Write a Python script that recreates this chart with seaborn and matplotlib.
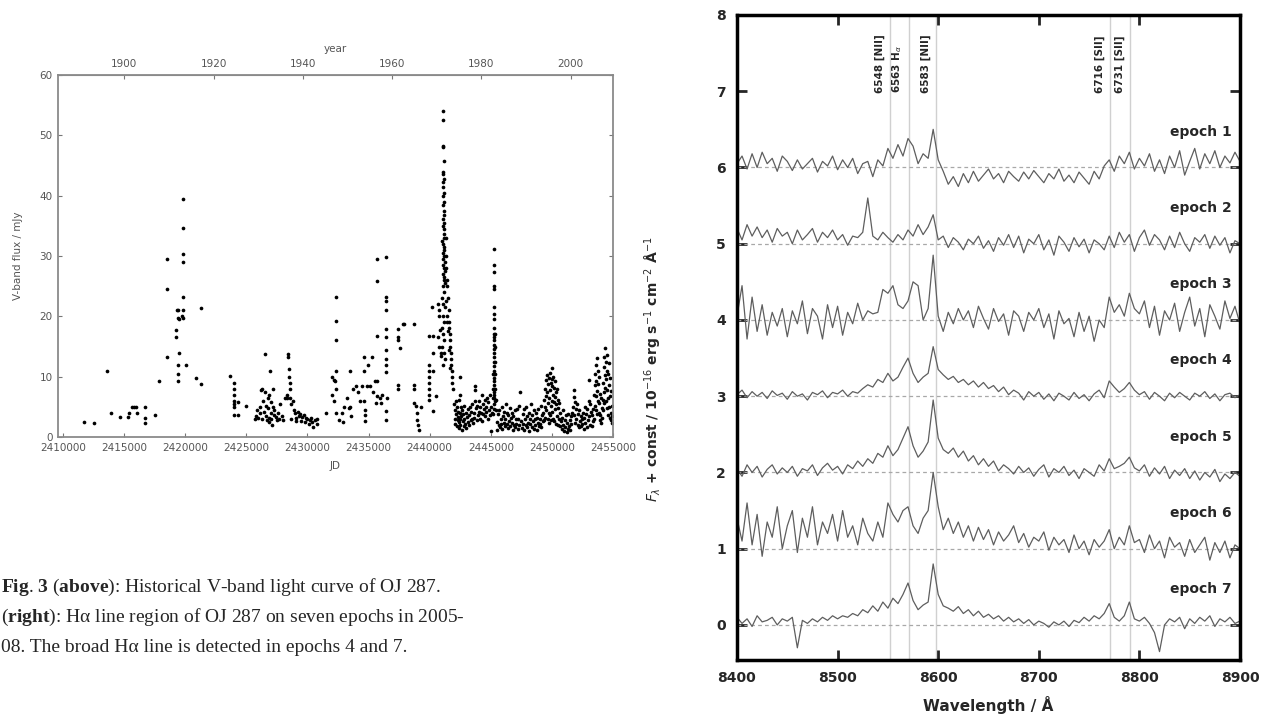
import numpy as np
import pandas as pd
import matplotlib
matplotlib.use("Agg")
import matplotlib.pyplot as plt
import seaborn as sns

# --- light curve data: (JD - 2400000, V-band flux / mJy) ---
early_1900s = [
    (11750, 2.5), (12560, 2.3), (13580, 11.0), (13950, 4.0), (14700, 3.3), (15330, 3.3),
    (15430, 4.0), (15650, 5.0), (15800, 5.0), (16000, 5.0), (16050, 4.0), (16730, 5.0),
    (16730, 3.2), (16730, 2.4), (17530, 3.7), (17850, 9.2), (18550, 29.5), (18550, 24.5),
    (18550, 13.3), (19220, 17.8), (19220, 16.6), (19300, 21.0), (19400, 21.0), (19400, 19.8),
    (19500, 19.6), (19400, 10.5), (19400, 12.0), (19420, 9.3), (19520, 13.9), (19800, 30.4),
    (19800, 29.0), (19800, 23.2), (19800, 19.8), (19800, 21.0), (19820, 39.5), (19820, 34.7),
    (19780, 20.0), (20100, 12.0), (20900, 9.8), (21300, 21.3), (21300, 8.8),
]
season_1930s = [
    (23640, 10.1), (24000, 9.0), (24000, 8.0), (24000, 7.0), (24000, 6.0), (24000, 5.5),
    (24000, 5.0), (24000, 3.7), (24300, 5.8), (24350, 3.7), (25000, 5.1), (25750, 3.0),
    (25800, 3.5), (25900, 4.5), (26000, 3.2), (26100, 5.0), (26150, 4.0), (26200, 7.8),
    (26300, 8.0), (26300, 3.0), (26400, 6.0), (26450, 4.2), (26500, 13.8), (26500, 7.5),
    (26600, 5.2), (26600, 3.5), (26700, 2.8), (26750, 6.5), (26800, 4.8), (26850, 3.2),
    (26900, 7.0), (26900, 2.5), (26950, 11.0), (27000, 5.8), (27000, 4.0), (27050, 3.0),
    (27100, 2.0), (27150, 8.0), (27200, 5.0), (27250, 3.6), (27300, 4.5), (27400, 3.3),
    (27500, 2.8), (27600, 4.0), (27650, 3.0), (27800, 5.5), (27900, 3.5), (28000, 2.8),
    (28200, 6.5), (28300, 7.0), (28350, 6.4), (28450, 13.8), (28450, 13.3), (28500, 11.2),
    (28500, 10.0), (28550, 9.0), (28550, 6.5), (28600, 8.0), (28650, 5.5), (28700, 3.0),
    (28800, 6.0), (28900, 4.5), (29000, 4.0), (29050, 3.2), (29100, 2.7), (29200, 4.2),
    (29300, 3.5), (29400, 3.8), (29500, 2.6), (29600, 3.3), (29700, 3.6), (29800, 2.5),
    (29900, 3.2), (30000, 3.0), (30100, 2.2), (30200, 2.8), (30300, 3.2), (30400, 2.5),
    (30500, 1.6), (30600, 2.8), (30750, 2.2), (30800, 3.0),
]
season_1950s = [
    (31500, 4.0), (32000, 7.0), (32000, 10.0), (32150, 9.5), (32300, 23.2), (32300, 19.3),
    (32300, 16.0), (32300, 11.0), (32250, 9.3), (32350, 8.0), (32200, 6.0), (32350, 4.0),
    (32600, 2.9), (32800, 4.0), (32900, 2.5), (33000, 5.0), (33200, 6.5), (33400, 4.8),
    (33500, 11.0), (33500, 5.0), (33600, 3.5), (33700, 7.9), (34000, 8.4), (34100, 7.5),
    (34300, 6.0), (34500, 8.4), (34600, 13.3), (34600, 11.0), (34650, 6.0), (34700, 4.5),
    (34750, 3.7), (34750, 2.6), (34900, 8.4), (34950, 12.0), (35100, 8.4), (35300, 13.3),
    (35400, 7.5), (35500, 9.3), (35600, 5.7), (35700, 16.8), (35700, 9.3), (35700, 6.8),
    (35700, 25.9), (35700, 29.5), (35900, 6.5), (36000, 5.7), (36100, 7.0), (36400, 29.8),
    (36400, 23.2), (36400, 22.6), (36400, 21.0), (36400, 17.9), (36400, 16.6), (36400, 14.5),
    (36400, 13.0), (36400, 12.0), (36400, 10.7), (36400, 4.3), (36400, 2.9), (36500, 6.5),
    (37400, 17.9), (37400, 16.5), (37450, 16.0), (37600, 14.8), (37400, 8.7), (37400, 8.0),
    (37800, 18.8), (37900, 18.8), (38700, 18.8), (38700, 8.7), (38700, 7.9), (38700, 5.7),
    (38900, 5.1), (38950, 4.0), (39000, 2.9), (39050, 2.0), (39100, 1.2), (39300, 5.0),
    (39950, 16.8), (39950, 12.0), (39950, 11.0), (39950, 10.0), (39950, 9.0), (39950, 8.0),
    (39950, 7.0), (39950, 6.2), (40250, 16.8), (40200, 21.6), (40250, 4.3), (40550, 6.8),
    (40250, 11.0), (40300, 14.0),
]
flare_1971 = [
    (40700, 22.0), (40750, 21.0), (40800, 20.0), (40850, 17.8), (40700, 16.5), (40800, 15.0),
    (40900, 14.0), (40950, 13.5), (41120, 54.0), (41120, 52.5), (41130, 48.2), (41130, 48.0),
    (41140, 45.7), (41120, 44.0), (41130, 43.6), (41140, 42.8), (41130, 42.2), (41120, 41.4),
    (41140, 40.5), (41130, 40.0), (41150, 39.0), (41120, 38.4), (41140, 37.5), (41160, 36.8),
    (41130, 36.2), (41150, 35.5), (41120, 35.0), (41160, 34.5), (41140, 33.6), (41170, 33.0),
    (41050, 32.5), (41100, 32.0), (41150, 31.5), (41200, 31.0), (41080, 30.5), (41180, 30.0),
    (41120, 29.5), (41220, 29.0), (41060, 28.5), (41160, 28.0), (41240, 27.5), (41100, 27.0),
    (41200, 26.5), (41140, 26.0), (41260, 25.5), (41080, 25.0), (41180, 24.0), (41020, 23.0),
    (41120, 22.0), (41220, 21.5), (41060, 20.0), (41160, 19.0), (41000, 18.0), (41100, 17.0),
    (41200, 16.0), (41040, 15.0), (41140, 14.0), (41240, 13.0), (41080, 12.0), (41300, 33.0),
    (41320, 30.0), (41350, 28.0), (41400, 26.0), (41450, 25.0), (41500, 23.0), (41550, 21.0),
    (41600, 19.0), (41620, 18.0), (41650, 17.0), (41680, 16.0), (41700, 15.0), (41720, 14.0),
    (41750, 13.0), (41780, 12.0), (41800, 11.0), (41830, 10.0), (41850, 9.0), (41880, 8.0),
    (41400, 20.0), (41500, 17.5), (41600, 14.5), (41700, 11.5), (41350, 22.5), (41450, 19.0),
]
season_1970s_80s = [
    (42000, 5.5), (42050, 3.0), (42080, 4.5), (42100, 2.2), (42150, 6.0), (42180, 3.8),
    (42200, 1.8), (42250, 5.0), (42280, 2.8), (42300, 4.2), (42350, 3.3), (42380, 1.5),
    (42400, 6.2), (42420, 2.5), (42450, 10.0), (42450, 4.0), (42480, 3.0), (42500, 7.0),
    (42520, 2.0), (42550, 5.0), (42600, 3.5), (42620, 1.2), (42650, 4.4), (42700, 2.6),
    (42750, 3.8), (42800, 1.8), (42820, 5.2), (42850, 3.0), (42900, 2.2), (42950, 4.0),
    (43000, 1.5), (43050, 3.3), (43100, 2.5), (43150, 4.6), (43200, 2.0), (43250, 3.6),
    (43300, 5.0), (43350, 2.8), (43400, 4.2), (43450, 3.0), (43500, 5.5), (43550, 2.4),
    (43600, 4.0), (43650, 3.2), (43700, 6.0), (43740, 8.5), (43740, 7.8), (43800, 4.8),
    (43850, 2.8), (43900, 5.2), (43950, 3.6), (44000, 6.0), (44050, 4.2), (44100, 3.0),
    (44150, 5.0), (44200, 4.0), (44280, 7.0), (44300, 2.6), (44350, 5.4), (44400, 3.8),
    (44450, 4.6), (44500, 6.2), (44550, 3.4), (44600, 5.0), (44650, 4.2), (44700, 6.5),
    (44750, 3.0), (44800, 5.8), (44850, 4.4), (44900, 7.0), (44950, 3.6), (45000, 5.0),
    (45050, 1.0), (45100, 4.0), (45150, 6.5),
]
flare_1983 = [
    (45230, 31.2), (45230, 28.5), (45240, 27.4), (45240, 25.0), (45240, 24.6), (45250, 21.5),
    (45250, 20.4), (45260, 19.5), (45240, 18.0), (45260, 17.0), (45250, 16.5), (45270, 16.0),
    (45260, 15.2), (45280, 14.6), (45250, 14.0), (45270, 13.2), (45260, 12.4), (45280, 11.8),
    (45250, 11.0), (45270, 10.4), (45290, 9.8), (45260, 9.2), (45280, 8.6), (45300, 8.0),
    (45270, 7.5), (45290, 7.0), (45240, 6.5), (45310, 6.0), (45280, 5.4), (45300, 4.6),
    (45330, 17.0), (45340, 15.0), (45350, 12.5), (45360, 10.5), (45380, 8.0), (45400, 6.2),
    (45420, 4.5), (45200, 3.8), (45220, 10.5), (45220, 8.0),
]
season_1985_94 = [
    (45500, 2.5), (45550, 1.2), (45600, 3.8), (45650, 2.0), (45700, 4.5), (45750, 1.6),
    (45800, 3.0), (45850, 2.2), (45900, 5.0), (45950, 1.4), (46000, 3.4), (46050, 2.4),
    (46100, 4.2), (46150, 1.8), (46200, 3.0), (46250, 5.5), (46300, 2.2), (46350, 4.0),
    (46400, 1.5), (46450, 3.6), (46500, 2.6), (46550, 4.8), (46600, 1.8), (46650, 3.2),
    (46700, 2.4), (46750, 4.0), (46800, 1.2), (46850, 3.4), (46900, 2.0), (46950, 4.4),
    (47000, 1.6), (47050, 3.0), (47100, 2.2), (47150, 4.6), (47200, 1.4), (47250, 3.0),
    (47300, 2.0), (47350, 5.2), (47420, 7.4), (47450, 2.6), (47550, 1.5), (47600, 3.8),
    (47650, 2.2), (47700, 4.6), (47750, 1.2), (47800, 3.0), (47850, 2.0), (47900, 5.0),
    (47950, 1.6), (48000, 3.4), (48050, 2.4), (48100, 4.0), (48150, 1.0), (48200, 3.0),
    (48250, 2.2), (48300, 5.4), (48350, 1.6), (48400, 3.6), (48450, 2.6), (48500, 4.4),
    (48550, 1.4), (48600, 3.0), (48650, 2.0), (48700, 4.0), (48750, 1.2), (48800, 3.2),
    (48850, 2.4), (48900, 4.6), (48950, 1.8), (49000, 3.0), (49050, 2.2), (49100, 5.2),
    (49150, 1.6), (49200, 3.6), (49250, 2.6),
]
outburst_1995 = [
    (49300, 4.0), (49330, 6.2), (49360, 2.8), (49400, 8.0), (49430, 5.0), (49460, 3.2),
    (49500, 9.5), (49530, 6.8), (49560, 4.4), (49600, 10.2), (49620, 7.5), (49650, 3.0),
    (49680, 8.8), (49700, 5.6), (49730, 2.4), (49760, 9.8), (49780, 6.4), (49800, 4.0),
    (49830, 10.6), (49850, 7.8), (49880, 3.6), (49900, 9.0), (49920, 5.2), (49950, 2.8),
    (49980, 8.4), (50000, 6.0), (50020, 11.4), (50030, 4.2), (50050, 9.6), (50080, 7.0),
    (50100, 3.0), (50130, 10.0), (50150, 5.8), (50180, 8.2), (50200, 2.6), (50230, 6.6),
    (50250, 9.2), (50280, 4.6), (50300, 7.4), (50330, 2.2), (50360, 5.4), (50400, 8.0),
    (50430, 3.4), (50460, 6.2), (50500, 2.0), (50530, 4.8), (50560, 3.0), (50600, 5.6),
    (50650, 1.8), (50700, 4.0), (50750, 2.6),
]
season_1998_2004 = [
    (50800, 1.4), (50850, 3.2), (50900, 2.0), (50950, 4.4), (51000, 1.0), (51050, 2.8),
    (51100, 1.6), (51150, 3.6), (51200, 0.8), (51250, 2.4), (51300, 1.4), (51350, 3.8),
    (51400, 1.8), (51450, 2.8), (51500, 1.2), (51550, 3.4), (51600, 2.2), (51650, 4.0),
    (51750, 5.0), (51800, 7.8), (51820, 6.6), (51850, 3.6), (51880, 5.8), (51900, 2.4),
    (51950, 4.6), (52000, 3.0), (52050, 5.4), (52100, 2.0), (52150, 3.8), (52200, 1.6),
    (52250, 4.4), (52300, 2.6), (52350, 3.4), (52400, 1.8), (52450, 3.0), (52500, 2.2),
    (52550, 4.0), (52600, 1.4), (52650, 3.2), (52700, 5.0), (52750, 2.4), (52800, 3.8),
    (52850, 1.6), (52900, 4.6), (52950, 2.8), (53000, 6.0), (53020, 9.5), (53050, 3.4),
    (53100, 5.4), (53150, 2.0), (53200, 4.2), (53250, 1.8), (53300, 3.6), (53350, 2.6),
]
outburst_2006 = [
    (53400, 4.6), (53450, 7.0), (53480, 3.0), (53500, 8.6), (53530, 5.2), (53560, 10.4),
    (53580, 6.8), (53600, 12.0), (53620, 4.4), (53650, 9.2), (53680, 13.1), (53700, 7.6),
    (53720, 3.8), (53750, 11.0), (53780, 6.0), (53800, 8.8), (53830, 4.0), (53850, 10.0),
    (53880, 5.6), (53900, 2.8), (53930, 7.2), (53960, 3.6), (54000, 6.4), (54050, 2.4),
    (54080, 4.8), (54120, 3.2), (54150, 6.2), (54180, 9.0), (54200, 4.4), (54230, 11.6),
    (54250, 7.4), (54280, 13.2), (54300, 5.6), (54320, 10.2), (54350, 14.7), (54370, 8.2),
    (54400, 12.4), (54420, 6.0), (54450, 9.6), (54480, 13.6), (54500, 4.8), (54520, 11.0),
    (54550, 7.8), (54580, 3.6), (54600, 10.4), (54630, 6.4), (54650, 12.2), (54680, 5.0),
    (54700, 8.6), (54730, 3.2), (54750, 9.8), (54780, 6.8), (54800, 4.0), (54830, 7.6),
    (54860, 2.8), (54880, 5.2), (54900, 3.4), (54950, 2.4),
]
year_ticks = [1900, 1920, 1940, 1960, 1980, 2000]

# --- H-alpha region spectra (flux above each epoch's baseline), 8400-8900 A every 5 A ---
epoch_offsets = [6, 5, 4, 3, 2, 1, 0]
epoch_1 = [0.05, 0.15, -0.02, 0.18, 0.00, 0.20, 0.05, 0.12, -0.05, 0.15,
           0.08, -0.04, 0.10, -0.02, 0.05, 0.12, -0.06, 0.08, 0.02, 0.15,
           -0.03, 0.10, 0.00, 0.12, -0.08, 0.05, 0.08, -0.12, 0.10, 0.02,
           0.25, 0.12, 0.30, 0.15, 0.38, 0.28, 0.05, 0.18, 0.12, 0.50,
           0.10, -0.05, -0.22, -0.12, -0.25, -0.08, -0.20, -0.05, -0.18, -0.10,
           -0.02, -0.15, -0.08, -0.20, -0.05, -0.12, -0.18, -0.06, -0.15, -0.04,
           -0.12, -0.20, -0.08, -0.15, -0.02, -0.18, -0.10, -0.20, -0.06, -0.14,
           -0.22, -0.05, -0.15, 0.02, 0.10, -0.05, 0.15, 0.05, 0.20, -0.02,
           0.12, 0.02, 0.18, -0.05, 0.10, -0.08, 0.15, 0.00, 0.22, -0.10,
           0.08, 0.25, -0.02, 0.18, 0.05, 0.22, 0.00, 0.15, 0.06, 0.20, 0.08]
epoch_2 = [0.20, 0.05, 0.25, 0.10, 0.22, 0.08, 0.18, 0.02, 0.20, 0.10,
           0.15, 0.00, 0.18, 0.05, 0.12, 0.20, 0.02, 0.15, 0.08, 0.18,
           0.05, 0.12, -0.02, 0.10, 0.08, 0.15, 0.60, 0.10, 0.05, 0.15,
           0.08, 0.02, 0.12, 0.05, 0.18, 0.10, 0.25, 0.12, 0.22, 0.38,
           0.05, 0.10, -0.05, 0.08, 0.02, -0.08, 0.06, 0.00, 0.10, -0.06,
           0.04, -0.10, 0.08, -0.02, 0.12, -0.05, 0.10, -0.12, 0.06, 0.00,
           0.12, -0.08, 0.05, -0.15, 0.10, 0.02, -0.10, 0.08, -0.04, 0.06,
           -0.12, 0.05, 0.00, -0.08, 0.10, -0.05, 0.15, 0.02, 0.12, -0.10,
           0.08, 0.18, -0.02, 0.12, 0.05, -0.08, 0.10, -0.05, 0.15, 0.00,
           -0.10, 0.08, 0.02, 0.12, -0.06, 0.10, -0.02, 0.08, -0.12, 0.04, 0.00]
epoch_3 = [0.05, 0.45, -0.25, 0.30, -0.15, 0.20, -0.20, 0.10, -0.08, 0.15,
           -0.22, 0.12, -0.05, 0.25, -0.18, 0.15, 0.05, -0.25, 0.20, -0.10,
           0.18, -0.20, 0.10, -0.05, 0.22, 0.00, 0.12, 0.08, 0.10, 0.40,
           0.35, 0.45, 0.20, 0.15, 0.25, 0.50, 0.45, 0.00, 0.15, 0.85,
           0.05, -0.15, 0.10, -0.05, 0.15, 0.00, 0.12, -0.10, 0.18, 0.02,
           -0.12, 0.15, -0.02, 0.08, -0.20, 0.12, 0.05, -0.15, 0.10, 0.00,
           0.15, -0.10, 0.08, -0.25, 0.12, -0.05, 0.02, -0.22, 0.10, -0.15,
           0.05, -0.28, 0.00, -0.10, 0.30, 0.10, 0.20, 0.05, 0.35, 0.15,
           0.08, 0.25, -0.10, 0.18, -0.20, 0.12, 0.00, 0.22, -0.15, 0.10,
           0.30, -0.08, 0.15, -0.22, 0.20, 0.05, -0.12, 0.25, 0.02, 0.18, -0.05]
epoch_4 = [0.02, 0.08, -0.02, 0.06, 0.00, 0.05, -0.03, 0.07, 0.01, 0.04,
           -0.04, 0.06, 0.00, 0.03, -0.05, 0.05, 0.02, 0.07, -0.02, 0.05,
           0.03, 0.08, 0.00, 0.06, 0.04, 0.10, 0.15, 0.12, 0.22, 0.18,
           0.30, 0.20, 0.25, 0.38, 0.50, 0.30, 0.18, 0.25, 0.30, 0.65,
           0.35, 0.28, 0.22, 0.26, 0.18, 0.22, 0.15, 0.20, 0.12, 0.18,
           0.10, 0.14, 0.06, 0.12, 0.02, 0.08, 0.04, -0.05, 0.06, 0.00,
           0.05, -0.04, 0.03, -0.06, 0.04, 0.00, -0.05, 0.05, -0.03, 0.02,
           -0.06, 0.03, 0.08, -0.02, 0.20, 0.12, 0.05, 0.10, 0.18, 0.08,
           0.02, 0.06, -0.04, 0.05, 0.00, -0.06, 0.04, -0.02, 0.05, 0.00,
           -0.05, 0.04, 0.00, 0.06, -0.03, 0.03, -0.06, 0.02, 0.04, -0.02, 0.02]
epoch_5 = [0.05, -0.05, 0.10, 0.00, 0.08, -0.06, 0.04, 0.10, -0.02, 0.06,
           0.00, 0.08, -0.05, 0.05, 0.02, 0.10, -0.04, 0.06, 0.12, 0.03,
           0.08, -0.02, 0.10, 0.05, 0.15, 0.08, 0.18, 0.12, 0.25, 0.20,
           0.35, 0.22, 0.30, 0.45, 0.60, 0.35, 0.20, 0.28, 0.40, 0.95,
           0.45, 0.30, 0.25, 0.32, 0.20, 0.28, 0.15, 0.22, 0.10, 0.18,
           0.08, 0.15, 0.02, 0.10, 0.05, -0.02, 0.08, 0.00, 0.06, -0.05,
           0.04, 0.10, -0.06, 0.05, 0.00, 0.08, -0.04, 0.03, -0.08, 0.05,
           0.00, -0.05, 0.10, 0.02, 0.18, 0.05, 0.08, 0.12, 0.20, 0.06,
           0.02, 0.10, -0.05, 0.06, -0.02, 0.08, -0.08, 0.03, -0.04, 0.05,
           -0.08, 0.02, -0.10, 0.00, -0.06, 0.04, -0.12, -0.02, -0.08, 0.00, -0.05]
epoch_6 = [0.40, 0.10, 0.60, 0.05, 0.45, -0.10, 0.35, 0.15, 0.55, 0.00,
           0.30, 0.50, -0.05, 0.40, 0.15, 0.55, 0.05, 0.35, 0.20, 0.45,
           0.10, 0.50, 0.15, 0.30, 0.05, 0.40, 0.20, 0.10, 0.35, 0.15,
           0.60, 0.45, 0.35, 0.50, 0.55, 0.30, 0.20, 0.40, 0.50, 1.00,
           0.55, 0.25, 0.40, 0.20, 0.35, 0.15, 0.30, 0.10, 0.28, 0.12,
           0.25, 0.05, 0.22, 0.10, 0.18, 0.30, 0.08, 0.20, 0.02, 0.15,
           0.10, 0.22, -0.02, 0.15, 0.05, 0.12, -0.05, 0.18, 0.00, 0.10,
           -0.08, 0.12, 0.02, 0.10, 0.25, 0.00, 0.15, 0.05, 0.30, 0.08,
           0.12, -0.05, 0.18, 0.00, 0.10, -0.12, 0.15, 0.02, 0.08, -0.10,
           0.12, -0.05, 0.05, 0.15, -0.15, 0.08, -0.05, 0.10, -0.12, 0.05, 0.00]
epoch_7 = [0.10, 0.02, 0.08, -0.02, 0.12, 0.04, 0.06, 0.10, 0.00, 0.08,
           0.05, 0.10, -0.30, 0.06, 0.02, 0.08, 0.04, 0.10, 0.06, 0.12,
           0.08, 0.12, 0.10, 0.15, 0.12, 0.20, 0.16, 0.25, 0.18, 0.30,
           0.22, 0.35, 0.28, 0.40, 0.55, 0.32, 0.20, 0.26, 0.30, 0.80,
           0.40, 0.25, 0.22, 0.18, 0.24, 0.15, 0.20, 0.12, 0.18, 0.10,
           0.14, 0.08, 0.12, 0.05, 0.10, 0.04, 0.08, 0.02, 0.07, 0.00,
           0.05, 0.02, -0.03, 0.04, 0.00, 0.05, -0.02, 0.06, 0.03, 0.10,
           0.05, 0.12, 0.08, 0.15, 0.28, 0.10, 0.05, 0.12, 0.30, 0.08,
           0.05, 0.10, 0.02, -0.10, -0.35, 0.00, 0.08, 0.04, 0.10, -0.05,
           0.08, 0.02, 0.10, 0.05, 0.12, -0.02, 0.08, 0.04, 0.10, 0.02, 0.05]
line_waves = [8552, 8571, 8598, 8771, 8791]
line_names = ["6548 [NII]", r"6563 H$_\alpha$", "6583 [NII]", "6716 [SII]", "6731 [SII]"]

W, H = 1282, 722
sns.set_style("ticks")
plt.rcParams["font.family"] = ["DejaVu Sans"]
plt.rcParams["mathtext.fontset"] = "dejavusans"
plt.rcParams["mathtext.rm"] = "Liberation Serif"
plt.rcParams["mathtext.bf"] = "Liberation Serif:bold"

fig = plt.figure(figsize=(W / 100, H / 100), dpi=100)
fig.patch.set_facecolor("white")

# ---------------- left: historical light curve ----------------
segments = [early_1900s, season_1930s, season_1950s, flare_1971, season_1970s_80s,
            flare_1983, season_1985_94, outburst_1995, season_1998_2004, outburst_2006]
rows = [pt for seg in segments for pt in seg]
lc = pd.DataFrame(rows, columns=["rjd", "flux"])
lc["jd"] = lc["rjd"] + 2400000

ax = fig.add_axes([58 / W, 1 - 437 / H, 555 / W, 362 / H])
sns.scatterplot(data=lc, x="jd", y="flux", ax=ax, color="black", s=7,
                linewidth=0, marker="o")
ax.set_xlim(2409600, 2455000)
ax.set_ylim(0, 60)
ax.set_xticks(range(2410000, 2455001, 5000))
ax.set_yticks(range(0, 61, 10))
ax.ticklabel_format(axis="x", style="plain", useOffset=False)
gray = "#555555"
ax.tick_params(direction="in", length=3, width=0.8, color="#777777",
               labelsize=7.5, labelcolor=gray, right=True, top=False, pad=4)
for sp in ax.spines.values():
    sp.set_color("#8a8a8a")
    sp.set_linewidth(1.3)
ax.set_xlabel("JD", fontsize=7.5, color=gray, labelpad=6)
ax.set_ylabel("V-band flux / mJy", fontsize=7.5, color=gray, labelpad=12)


def jd_to_year(jd):
    return 1900 + (np.asarray(jd) - 2415020.5) / 365.25


def year_to_jd(yr):
    return 2415020.5 + (np.asarray(yr) - 1900) * 365.25


sec = ax.secondary_xaxis("top", functions=(jd_to_year, year_to_jd))
sec.set_xticks(year_ticks)
sec.tick_params(direction="in", length=3, width=0.8, color="#777777",
                labelsize=7.5, labelcolor=gray, pad=4)
sec.spines["top"].set_color("#8a8a8a")
sec.set_xlabel("year", fontsize=7.5, color=gray, labelpad=5)

# ---------------- right: H-alpha spectra ----------------
waves = np.arange(8400, 8901, 5)
spectra = [epoch_1, epoch_2, epoch_3, epoch_4, epoch_5, epoch_6, epoch_7]

ax2 = fig.add_axes([737 / W, 1 - 660 / H, 503 / W, 645 / H])
for lw_ in line_waves:
    ax2.axvline(lw_, color="#d0d0d0", lw=1.0, zorder=0)
for i, (flux, off) in enumerate(zip(spectra, epoch_offsets)):
    ax2.axhline(off, color="#a8a8a8", lw=0.9, ls=(0, (3, 2.5)), zorder=1)
    sns.lineplot(x=waves, y=np.array(flux) + off, ax=ax2, color="#5e5e5e",
                 lw=0.9, estimator=None, zorder=2)
    ax2.text(8892, off + 0.47, f"epoch {i + 1}", ha="right", va="center",
             fontsize=10, fontweight="bold")
for lw_, name in zip(line_waves, line_names):
    ax2.text(lw_ - 5, 6.98, name, rotation=90, ha="right", va="bottom",
             fontsize=7.5, fontweight="bold")

ax2.set_xlim(8400, 8900)
ax2.set_ylim(-0.46, 8)
ax2.set_xticks(range(8400, 8901, 100))
ax2.set_yticks(range(0, 9))
ax2.tick_params(direction="in", length=7, width=2, top=True, right=True,
                labelsize=10, pad=8)
for lab in ax2.get_xticklabels() + ax2.get_yticklabels():
    lab.set_fontweight("bold")
for sp in ax2.spines.values():
    sp.set_linewidth(2.5)
    sp.set_color("black")
ax2.set_xlabel("Wavelength / Å", fontsize=11, fontweight="bold", labelpad=8)
ax2.set_ylabel(r"$F_\lambda$ + const / 10$^{-16}$ erg s$^{-1}$ cm$^{-2}$ Å$^{-1}$",
               fontsize=10, fontweight="bold")
ax2.yaxis.set_label_coords(-0.145, 0.45)

# ---------------- caption ----------------
cap = dict(fontsize=14, family="Liberation Serif", math_fontfamily="custom",
           va="baseline", ha="left")
fig.text(1 / W, 1 - 592 / H,
         r"$\mathbf{Fig}$. $\mathbf{3}$ ($\mathbf{above}$): Historical V-band light curve of OJ 287.",
         **cap)
fig.text(1 / W, 1 - 622 / H,
         r"($\mathbf{right}$): Hα line region of OJ 287 on seven epochs in 2005-", **cap)
fig.text(1 / W, 1 - 652 / H,
         "08. The broad Hα line is detected in epochs 4 and 7.", **cap)

fig.savefig("out.png", dpi=100)
